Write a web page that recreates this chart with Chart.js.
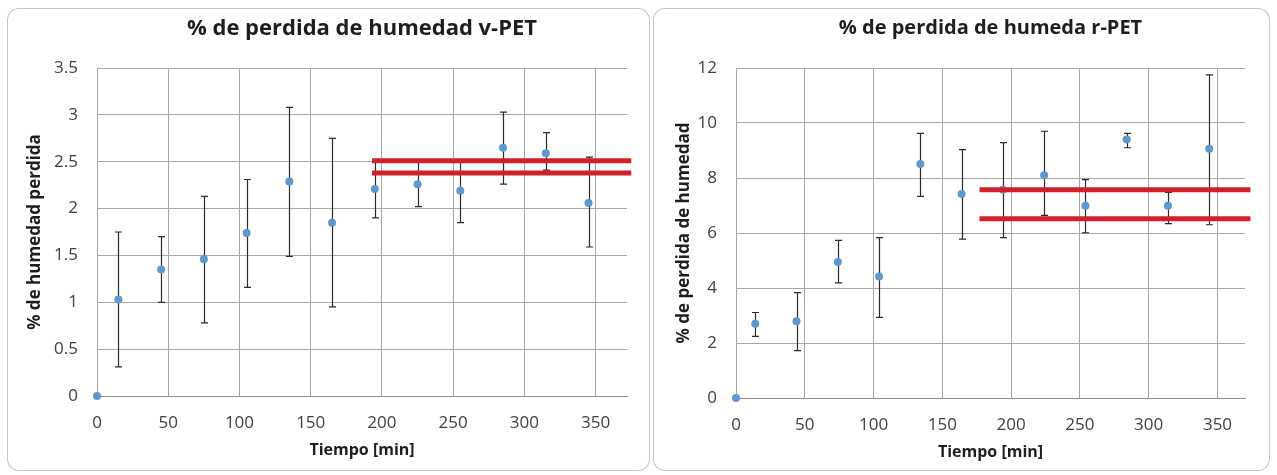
<!DOCTYPE html>
<html>
<head>
<meta charset="utf-8">
<script src="https://cdn.jsdelivr.net/npm/chart.js@4.4.0/dist/chart.umd.min.js"></script>
<style>
  body { margin: 0; background: #fff; width: 1277px; height: 475px; position: relative; overflow: hidden; }
  .panel { position: absolute; top: 8px; height: 463px; border-radius: 12px; box-shadow: inset 0 0 0 1px #c4c4c4; }
  canvas { position: absolute; left: 0; top: 0; }
</style>
</head>
<body>
<div class="panel" style="left:7px; width:643px;"><canvas id="canvas1" width="643" height="463"></canvas></div>
<div class="panel" style="left:653px; width:617px;"><canvas id="canvas2" width="617" height="463"></canvas></div>
<script>
// v-PET (left chart)
let timeV = [0, 15, 45, 75, 105, 135, 165, 195, 225, 255, 285, 315, 345];
let lossV = [0, 1.03, 1.35, 1.46, 1.74, 2.29, 1.85, 2.21, 2.26, 2.19, 2.65, 2.59, 2.06];
let lowV  = [null, 0.31, 1.00, 0.78, 1.16, 1.49, 0.95, 1.90, 2.02, 1.85, 2.26, 2.41, 1.59];
let highV = [null, 1.75, 1.70, 2.13, 2.31, 3.08, 2.75, 2.52, 2.50, 2.50, 3.03, 2.81, 2.55];
let bandV = [2.51, 2.38];
let bandSpanV = [193, 375];

// r-PET (right chart)
let timeR = [0, 14, 44, 74, 104, 134, 164, 194, 224, 254, 284, 314, 344];
let lossR = [0, 2.70, 2.79, 4.95, 4.42, 8.51, 7.42, 7.57, 8.10, 6.99, 9.40, 6.99, 9.06];
let lowR  = [null, 2.24, 1.72, 4.19, 2.93, 7.33, 5.78, 5.83, 6.64, 6.01, 9.10, 6.34, 6.30];
let highR = [null, 3.11, 3.83, 5.73, 5.83, 9.62, 9.03, 9.29, 9.70, 7.94, 9.62, 7.48, 11.75];
let bandR = [7.57, 6.52];
let bandSpanR = [177, 374];

let fontFam = "'Open Sans', 'Liberation Sans', sans-serif";
let gridColor = '#a6a6a6';

// draws the vertical error bars behind the points
const errorBars = {
  id: 'errorBars',
  beforeDatasetsDraw(chart) {
    let ctx = chart.ctx;
    let xs = chart.scales.x, ys = chart.scales.y;
    let ds = chart.data.datasets[0];
    ctx.save();
    ctx.strokeStyle = '#2a2a2a';
    ctx.lineWidth = 1.2;
    for (let i = 0; i < ds.data.length; i++) {
      if (ds.errLow[i] == null) continue;
      let px = Math.round(xs.getPixelForValue(ds.data[i].x)) + 0.5;
      let top = ys.getPixelForValue(ds.errHigh[i]);
      let bot = ys.getPixelForValue(ds.errLow[i]);
      ctx.beginPath();
      ctx.moveTo(px, top); ctx.lineTo(px, bot);
      ctx.moveTo(px - 3.5, top); ctx.lineTo(px + 3.5, top);
      ctx.moveTo(px - 3.5, bot); ctx.lineTo(px + 3.5, bot);
      ctx.stroke();
    }
    ctx.restore();
  }
};

function makeChart(id, cfg) {
  let points = [];
  for (let i = 0; i < cfg.times.length; i++) {
    points.push({x: cfg.times[i], y: cfg.values[i]});
  }
  let bandSets = cfg.band.map(function(v) {
    return {
      data: [{x: cfg.span[0], y: v}, {x: cfg.span[1], y: v}],
      showLine: true,
      borderColor: '#d0202c',
      borderWidth: 5,
      pointRadius: 0,
      clip: 8,
      order: 0
    };
  });

  let options = {
    type: 'scatter',
    data: {
      datasets: [{
        data: points,
        errLow: cfg.low,
        errHigh: cfg.high,
        pointRadius: 4,
        pointBackgroundColor: '#5f98cc',
        pointBorderWidth: 0,
        clip: false,
        order: 1
      }].concat(bandSets)
    },
    options: {
      responsive: false,
      animation: false,
      layout: { padding: { left: 0, right: cfg.padRight, top: 0, bottom: 0 } },
      plugins: {
        legend: { display: false },
        tooltip: { enabled: false },
        title: {
          display: true,
          text: cfg.title,
          fullSize: false,
          color: '#1e1e1e',
          font: { family: fontFam, size: cfg.titleSize, weight: 'bold' },
          padding: { top: 8, bottom: 60 - 8 - cfg.titleSize * 1.2 }
        }
      },
      scales: {
        x: {
          type: 'linear',
          min: 0,
          max: cfg.xMax,
          afterFit: function(s) { s.height = cfg.xHeight; },
          ticks: {
            stepSize: 50,
            includeBounds: false,
            padding: 17,
            color: '#404040',
            font: { family: fontFam, size: 17 }
          },
          grid: { color: gridColor, drawTicks: false },
          border: { color: '#8c8c8c' },
          title: {
            display: true,
            text: 'Tiempo [min]',
            color: '#1e1e1e',
            font: { family: fontFam, size: 16, weight: 'bold' },
            padding: { top: 0, bottom: cfg.xTitlePad }
          }
        },
        y: {
          min: 0,
          max: cfg.yMax,
          afterFit: function(s) { s.width = cfg.yWidth; },
          ticks: {
            stepSize: cfg.yStep,
            padding: 19,
            color: '#404040',
            font: { family: fontFam, size: 17 },
            callback: function(v) { return String(v); }
          },
          grid: { color: gridColor, drawTicks: false },
          border: { color: gridColor },
          title: {
            display: true,
            text: cfg.yTitle,
            color: '#1e1e1e',
            font: { family: fontFam, size: 17, weight: 'bold' },
            padding: { top: cfg.yTitlePad, bottom: 0 }
          }
        }
      }
    },
    plugins: [errorBars]
  };

  return new Chart(document.getElementById(id), options);
}

makeChart('canvas1', {
  title: '% de perdida de humedad v-PET',
  titleSize: 22,
  yTitle: '% de humedad perdida',
  times: timeV, values: lossV, low: lowV, high: highV,
  band: bandV, span: bandSpanV,
  xMax: 372, yMax: 3.5, yStep: 0.5,
  yWidth: 90, xHeight: 75, padRight: 23,
  xTitlePad: 11, yTitlePad: 18
});

makeChart('canvas2', {
  title: '% de perdida de humeda r-PET',
  titleSize: 20,
  yTitle: '% de perdida de humedad',
  times: timeR, values: lossR, low: lowR, high: highR,
  band: bandR, span: bandSpanR,
  xMax: 370, yMax: 12, yStep: 2,
  yWidth: 83, xHeight: 73, padRight: 25,
  xTitlePad: 9, yTitlePad: 21
});
</script>
</body>
</html>
